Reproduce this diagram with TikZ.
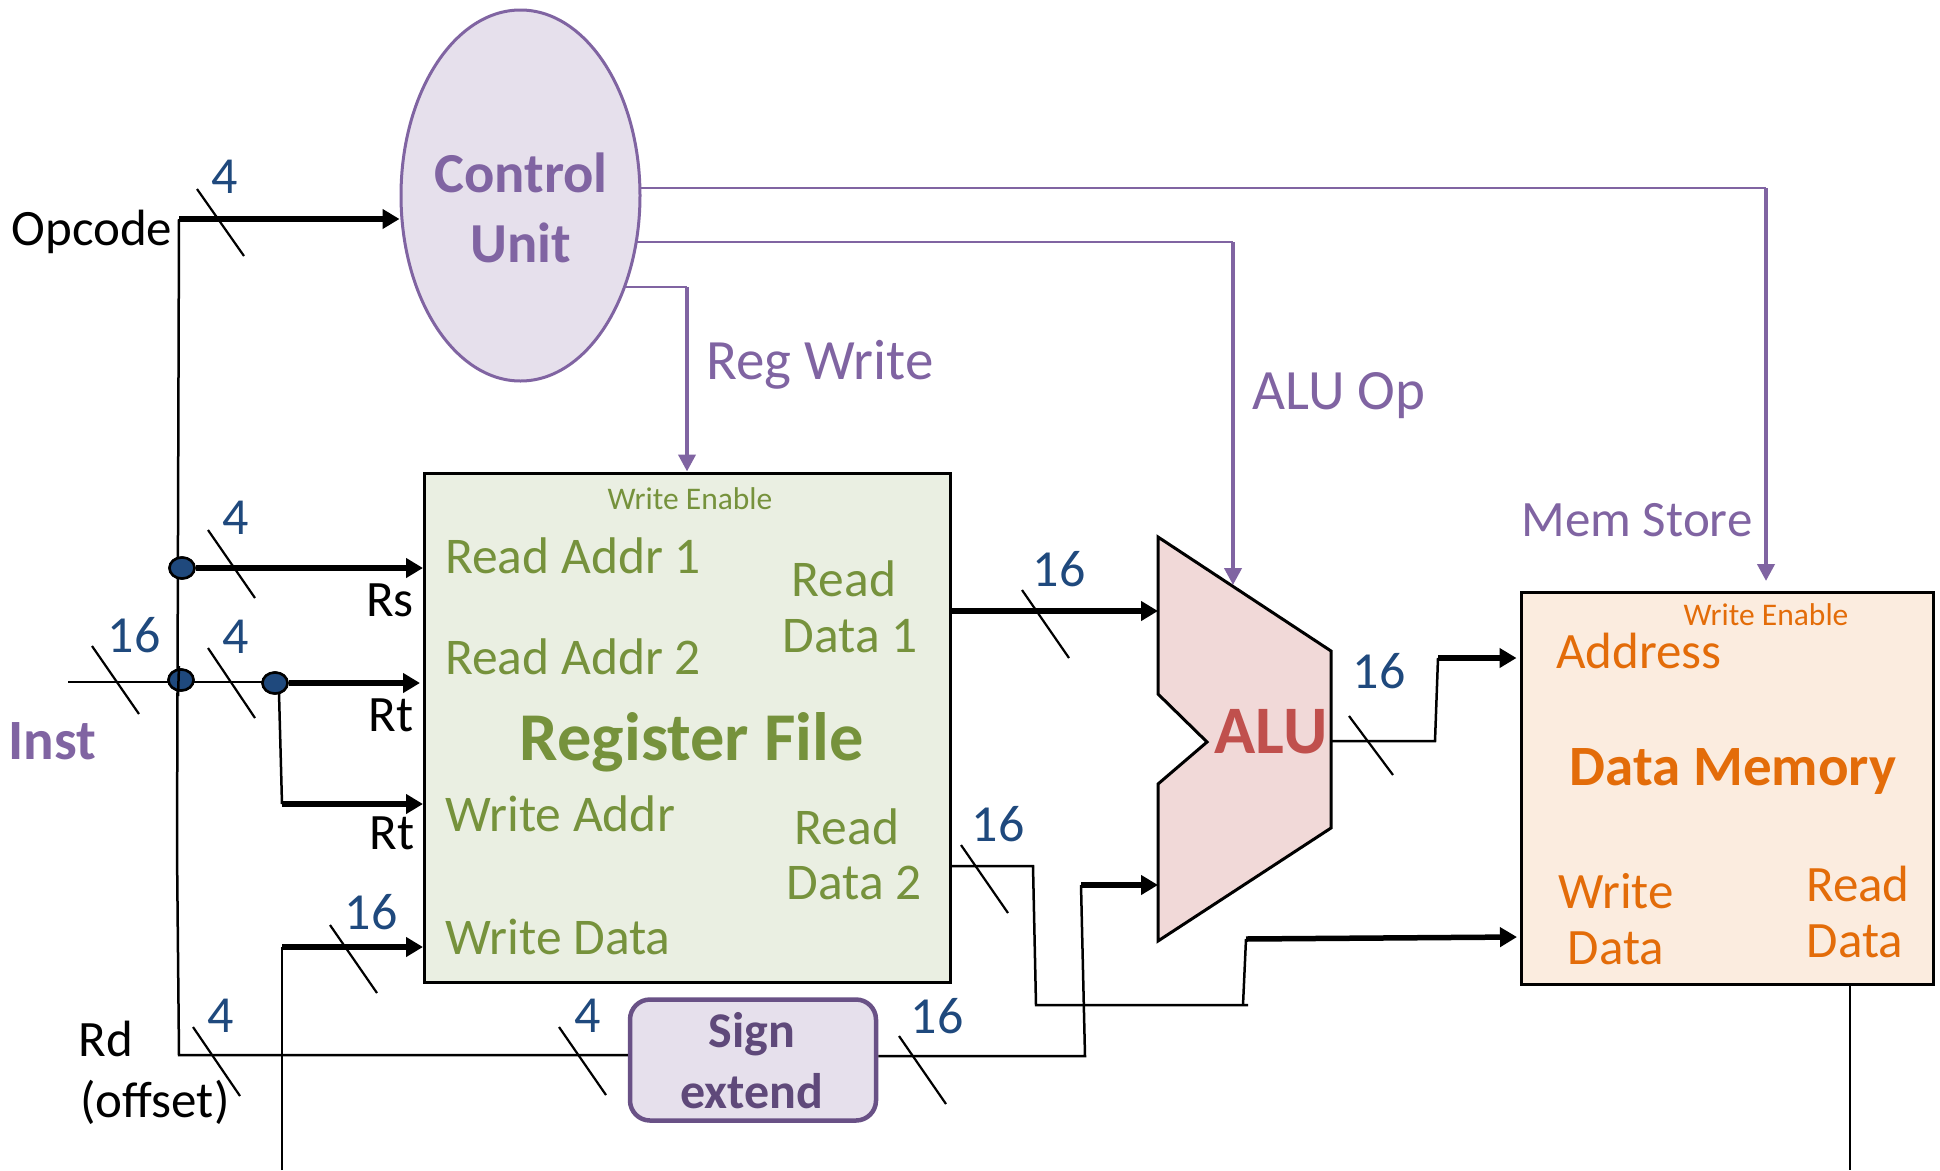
\documentclass[tikz,border=0pt]{standalone}
\usepackage{fontspec}
\setmainfont{Carlito}
\usetikzlibrary{arrows.meta,shapes.geometric}
\definecolor{cpurple}{HTML}{8064A2}
\definecolor{cdpurple}{HTML}{5F497A}
\definecolor{cgreen}{HTML}{76923C}
\definecolor{corange}{HTML}{E36C09}
\definecolor{cred}{HTML}{C0504D}
\definecolor{cblue}{HTML}{1F497D}
\tikzset{
  lab/.style={font=\fontsize{#1}{#1}\selectfont,inner sep=0pt,text height=#1*0.64pt,text depth=0pt,anchor=center},
  blab/.style={font=\bfseries\fontsize{#1}{#1}\selectfont,inner sep=0pt,text height=#1*0.64pt,text depth=0pt,anchor=center},
  num/.style={lab=52,text=cblue},
  blk/.style={lab=51,text=black},
  grn/.style={lab=51.5,text=cgreen},
  org/.style={lab=51,text=corange},
  pur/.style={lab=57,text=cpurple},
  thinw/.style={draw=black,line width=2.5pt,line join=miter},
  thickw/.style={draw=black,line width=5.5pt,-{Triangle[length=17pt,width=19pt]}},
  ctlw/.style={draw=cpurple,line width=2.5pt},
  ctla/.style={draw=cpurple,line width=4pt,-{Triangle[length=17pt,width=17pt]}},
  tick/.style={draw=black,line width=2.2pt},
  dotn/.style={ellipse,draw=black,line width=2.5pt,fill=cblue,minimum width=25pt,minimum height=21pt,inner sep=0pt},
}
\begin{document}
\begin{tikzpicture}[x=1pt,y=-1pt]
\useasboundingbox (0,0) rectangle (1940,1170);
\fill[white] (0,0) rectangle (1940,1170);

% Blocks
\node[ellipse,draw=cpurple,fill=cpurple!20!white,line width=3pt,minimum width=239pt,minimum height=371pt,inner sep=0pt] (cu) at (520.5,195.5) {};
\node[draw=black,fill=cgreen!15!white,line width=3pt,minimum width=525.5pt,minimum height=509pt,inner sep=0pt] (reg) at (687.25,727.5) {};
\node[draw=black,fill=corange!13!white,line width=3pt,minimum width=412pt,minimum height=392pt,inner sep=0pt] (mem) at (1727,788.5) {};
\node[draw=cdpurple!70!cpurple,fill=cpurple!20!white,line width=4.5pt,rounded corners=20pt,minimum width=246pt,minimum height=121pt,inner sep=0pt] (sx) at (753,1060) {};
\coordinate (a1) at (1158,537);
\coordinate (a2) at (1331,651);
\coordinate (a3) at (1331,828);
\coordinate (a4) at (1158,941);
\coordinate (a5) at (1158,784);
\coordinate (a6) at (1207,742);
\coordinate (a7) at (1158,694);
\draw[fill=cred!22!white,line width=3pt,line join=miter] (a1) -- (a2) -- (a3) -- (a4) -- (a5) -- (a6) -- (a7) -- cycle;

% Junction points
\node[dotn] (j1) at (182,568) {};
\node[dotn] (j2) at (181,680) {};
\node[dotn] (j3) at (275,683) {};
\coordinate (op) at (179,219);
\coordinate (kink) at (177,850);
\coordinate (rd) at (179,1055);
\coordinate (instin) at (68,682);
\coordinate (rt2a) at (282,804);
\coordinate (rt2t) at (279,693);
\coordinate (wdb) at (282,947);
\coordinate (wdbot) at (282,1170);
\coordinate (sxa) at (1085,1056);
\coordinate (sxb) at (1081,885);
\coordinate (rd2a) at (950,866);
\coordinate (rd2b) at (1033,866);
\coordinate (rd2c) at (1036,1005);
\coordinate (rd2d) at (1248,1005);
\coordinate (rd2e) at (1243,1005);
\coordinate (rd2f) at (1246,939);
\coordinate (wdm) at (1517,937);
\coordinate (rd1a) at (950,611);
\coordinate (aoa) at (1331,741);
\coordinate (aob) at (1435,741);
\coordinate (aoc) at (1438,658);
\coordinate (dmbot) at (1850,1170);
\coordinate (c1a) at (641,188);
\coordinate (c1b) at (1766,188);
\coordinate (c1c) at (1766,581);
\coordinate (c2a) at (637,242);
\coordinate (c2b) at (1233,242);
\coordinate (c2c) at (1233,585);
\coordinate (c3a) at (625,287);
\coordinate (c3b) at (687,287);
\coordinate (over1) at (179,666);
\coordinate (over2) at (178,696);

% Black wires
\draw[thinw] (op) -- (kink) -- (rd) -- (sx.west |- rd);
\draw[thinw] (instin) -- (instin -| j3);
\draw[thinw] (rt2a) -- (rt2t);
\draw[thinw] (wdbot) -- (wdb);
\draw[thinw] (sx.east |- sxa) -- (sxa) -- (sxb);
\draw[thinw] (rd2a) -- (rd2b) -- (rd2c) -- (rd2d);
\draw[thinw] (rd2e) -- (rd2f);
\draw[thinw] (aoa) -- (aob) -- (aoc);
\draw[thinw] (mem.south -| dmbot) -- (dmbot);

\draw[thickw] (op) -- (cu.west |- op);
\draw[thickw] (j1) -- (reg.west |- j1);
\draw[thickw] (j3) -- ([xshift=-3pt]reg.west |- j3);
\draw[thickw] (rt2a) -- (reg.west |- rt2a);
\draw[thickw] (wdb) -- (reg.west |- wdb);
\draw[thickw] (sxb) -- (a1 |- sxb);
\draw[thickw] (rd1a) -- (a1 |- rd1a);
\draw[thickw] (rd2f) -- (wdm);
\draw[thickw] (aoc) -- ([xshift=-3pt]mem.west |- aoc);

% Control wires
\draw[ctlw] (c1a) -- (c1b);
\draw[ctla] (c1b) -- (c1c);
\draw[ctlw] (c2a) -- (c2b);
\draw[ctla] (c2b) -- (c2c);
\draw[ctlw] (c3a) -- (c3b);
\draw[ctla] (c3b) -- (c3b |- reg.north);

% Bus ticks
\draw[tick] (197,189) -- (244,256);
\draw[tick] (208,530) -- (255,598);
\draw[tick] (208,648) -- (255,718);
\draw[tick] (92,646) -- (139,714);
\draw[tick] (330,925) -- (377,993);
\draw[tick] (193,1027) -- (240,1096);
\draw[tick] (559,1027) -- (606,1095);
\draw[tick] (899,1036) -- (946,1104);
\draw[tick] (961,845) -- (1008,913);
\draw[tick] (1022,590) -- (1069,658);
\draw[tick] (1349,716) -- (1393,775);

% Redraw dots above wires
\node[dotn] at (j1) {};
\node[dotn] at (j2) {};
\node[dotn] at (j3) {};
\draw[thinw] (over1) -- (over2);

% Labels
\node[num] (n1) at (225,177) {4};
\node[num] (n2) at (236,518) {4};
\node[num] (n3) at (236,637) {4};
\node[num] (n4) at (134,636) {16};
\node[num] (n5) at (371,913) {16};
\node[num] (n6) at (221,1016) {4};
\node[num] (n7) at (588,1016) {4};
\node[num] (n8) at (937,1017) {16};
\node[num] (n9) at (998,825) {16};
\node[num] (n10) at (1059,570) {16};
\node[num] (n11) at (1379,672) {16};

\node[blk] (t1) at (92,229) {Opcode};
\node[blk] (t2) at (390,600) {Rs};
\node[blk] (t3) at (391,715) {Rt};
\node[blk] (t4) at (392,833) {Rt};
\node[blk] (t5) at (106,1040) {Rd};
\node[blk] (t6) at (155,1101) {(offset)};
\node[blab=57,text=cpurple] (t7) at (52,741) {Inst};

\node[blab=56.5,text=cpurple] (c1) at (521,174) {Control};
\node[blab=56.5,text=cpurple] (c2) at (521,244) {Unit};
\node[pur] (p1) at (820,361) {Reg Write};
\node[pur] (p2) at (1339,391) {ALU Op};
\node[lab=51,text=cpurple] (p3) at (1637,520) {Mem Store};

\node[lab=31.5,text=cgreen] (g0) at (690,499) {Write Enable};
\node[grn] (g1) at (573,557) {Read Addr 1};
\node[grn] (g2) at (573,658) {Read Addr 2};
\node[grn] (g3) at (560,815) {Write Addr};
\node[grn] (g4) at (558,938) {Write Data};
\node[grn] (g5) at (844,580) {Read};
\node[grn] (g6) at (850,636) {Data 1};
\node[grn] (g7) at (847,828) {Read};
\node[grn] (g8) at (854,883) {Data 2};
\node[blab=68.4,text=cgreen] (g9) at (692,739) {Register File};

\node[blab=68,text=cred] (alu) at (1271,732) {ALU};

\node[lab=31.5,text=corange] (o0) at (1766,615) {Write Enable};
\node[org] (o1) at (1639,652) {Address};
\node[blab=57,text=corange] (o2) at (1733,767) {Data Memory};
\node[org] (o3) at (1616,892) {Write};
\node[org] (o4) at (1616,948) {Data};
\node[org] (o5) at (1858,885) {Read};
\node[org] (o6) at (1855,941) {Data};

\node[blab=50,text=cdpurple] (s1) at (752,1031) {Sign};
\node[blab=50,text=cdpurple] (s2) at (752,1092) {extend};
\end{tikzpicture}
\end{document}
